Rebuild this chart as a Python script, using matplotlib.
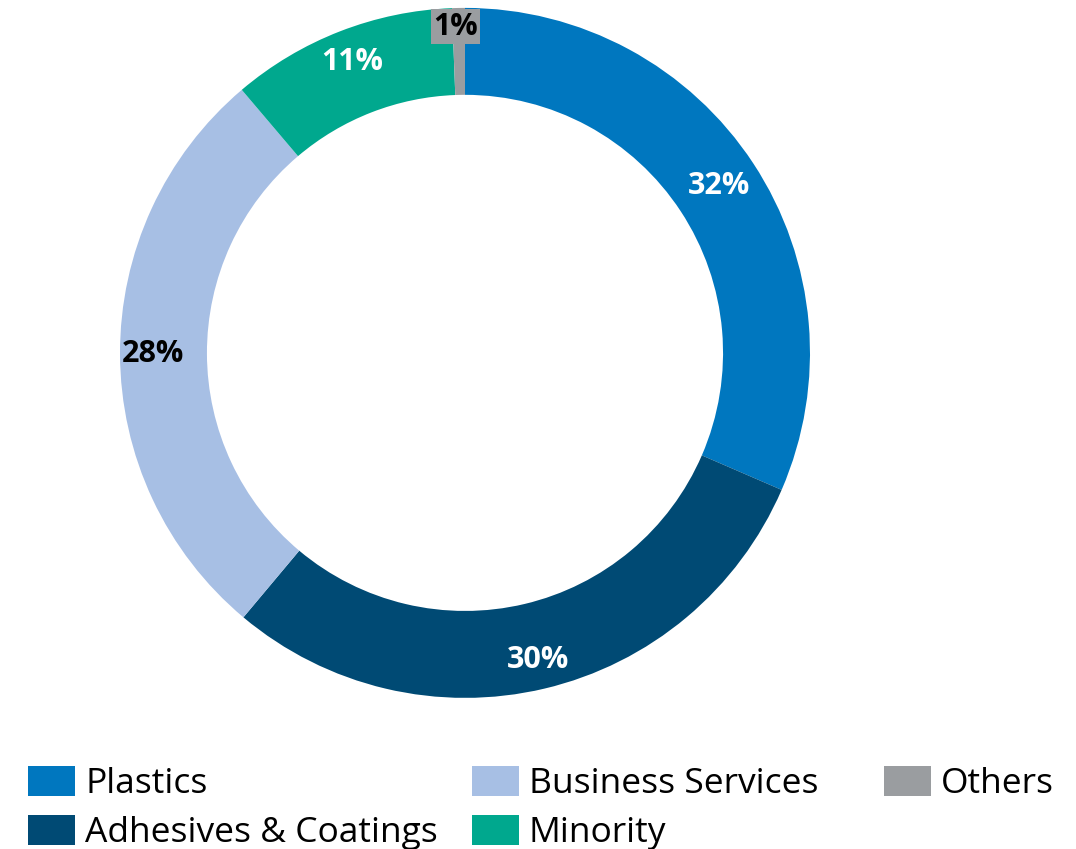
import matplotlib
matplotlib.use("Agg")
import matplotlib.pyplot as plt
import numpy as np
from matplotlib.patches import Patch

categories = ["Plastics", "Adhesives & Coatings", "Business Services", "Minority", "Others"]
values = [31.5, 29.6, 27.7, 10.6, 0.6]
value_labels = ["32%", "30%", "28%", "11%", "1%"]
colors = ["#0077BF", "#004A74", "#A7BFE4", "#00A88E", "#9A9DA0"]
label_colors = ["white", "white", "black", "white", "black"]

plt.rcParams['font.family'] = ['Open Sans', 'DejaVu Sans']

fig = plt.figure(figsize=(10.76, 8.49), dpi=100)
ax = fig.add_axes([0.1115, 0.178, 0.6413, 0.8127])
wedges, _ = ax.pie(values, colors=colors, startangle=90, counterclock=False,
                   radius=1.0, wedgeprops=dict(width=0.252, linewidth=0))
ax.set_xlim(-1, 1)
ax.set_ylim(-1, 1)
ax.set_aspect('equal')
ax.axis('off')

label_r = [0.88, 0.915, 0.905, 0.905, 0.945]
for i, w in enumerate(wedges):
    theta = np.deg2rad((w.theta1 + w.theta2) / 2)
    r = label_r[i]
    if categories[i] == "Others":
        ax.text(r * np.cos(theta) - 0.01, r * np.sin(theta), value_labels[i],
                ha='center', va='center', fontsize=22, fontweight='bold',
                color=label_colors[i],
                bbox=dict(boxstyle='square,pad=0.08', fc=colors[i], ec='none'))
    else:
        ax.text(r * np.cos(theta), r * np.sin(theta), value_labels[i],
                ha='center', va='center', fontsize=22, fontweight='bold',
                color=label_colors[i])

handles = [Patch(facecolor=c, edgecolor='none') for c in colors]
leg_kw = dict(frameon=False, fontsize=25.5, handlelength=1.33, handleheight=0.95,
              handletextpad=0.28, labelspacing=0.38, borderaxespad=0, borderpad=0)
leg1 = fig.legend(handles[:4], categories[:4], ncol=2, loc='upper left',
                  bbox_to_anchor=(28 / 1076, 0.098), columnspacing=0.96, **leg_kw)
leg2 = fig.legend(handles[4:], categories[4:], ncol=1, loc='upper left',
                  bbox_to_anchor=(884 / 1076, 0.098), **leg_kw)

fig.savefig("out.png", dpi=100)
